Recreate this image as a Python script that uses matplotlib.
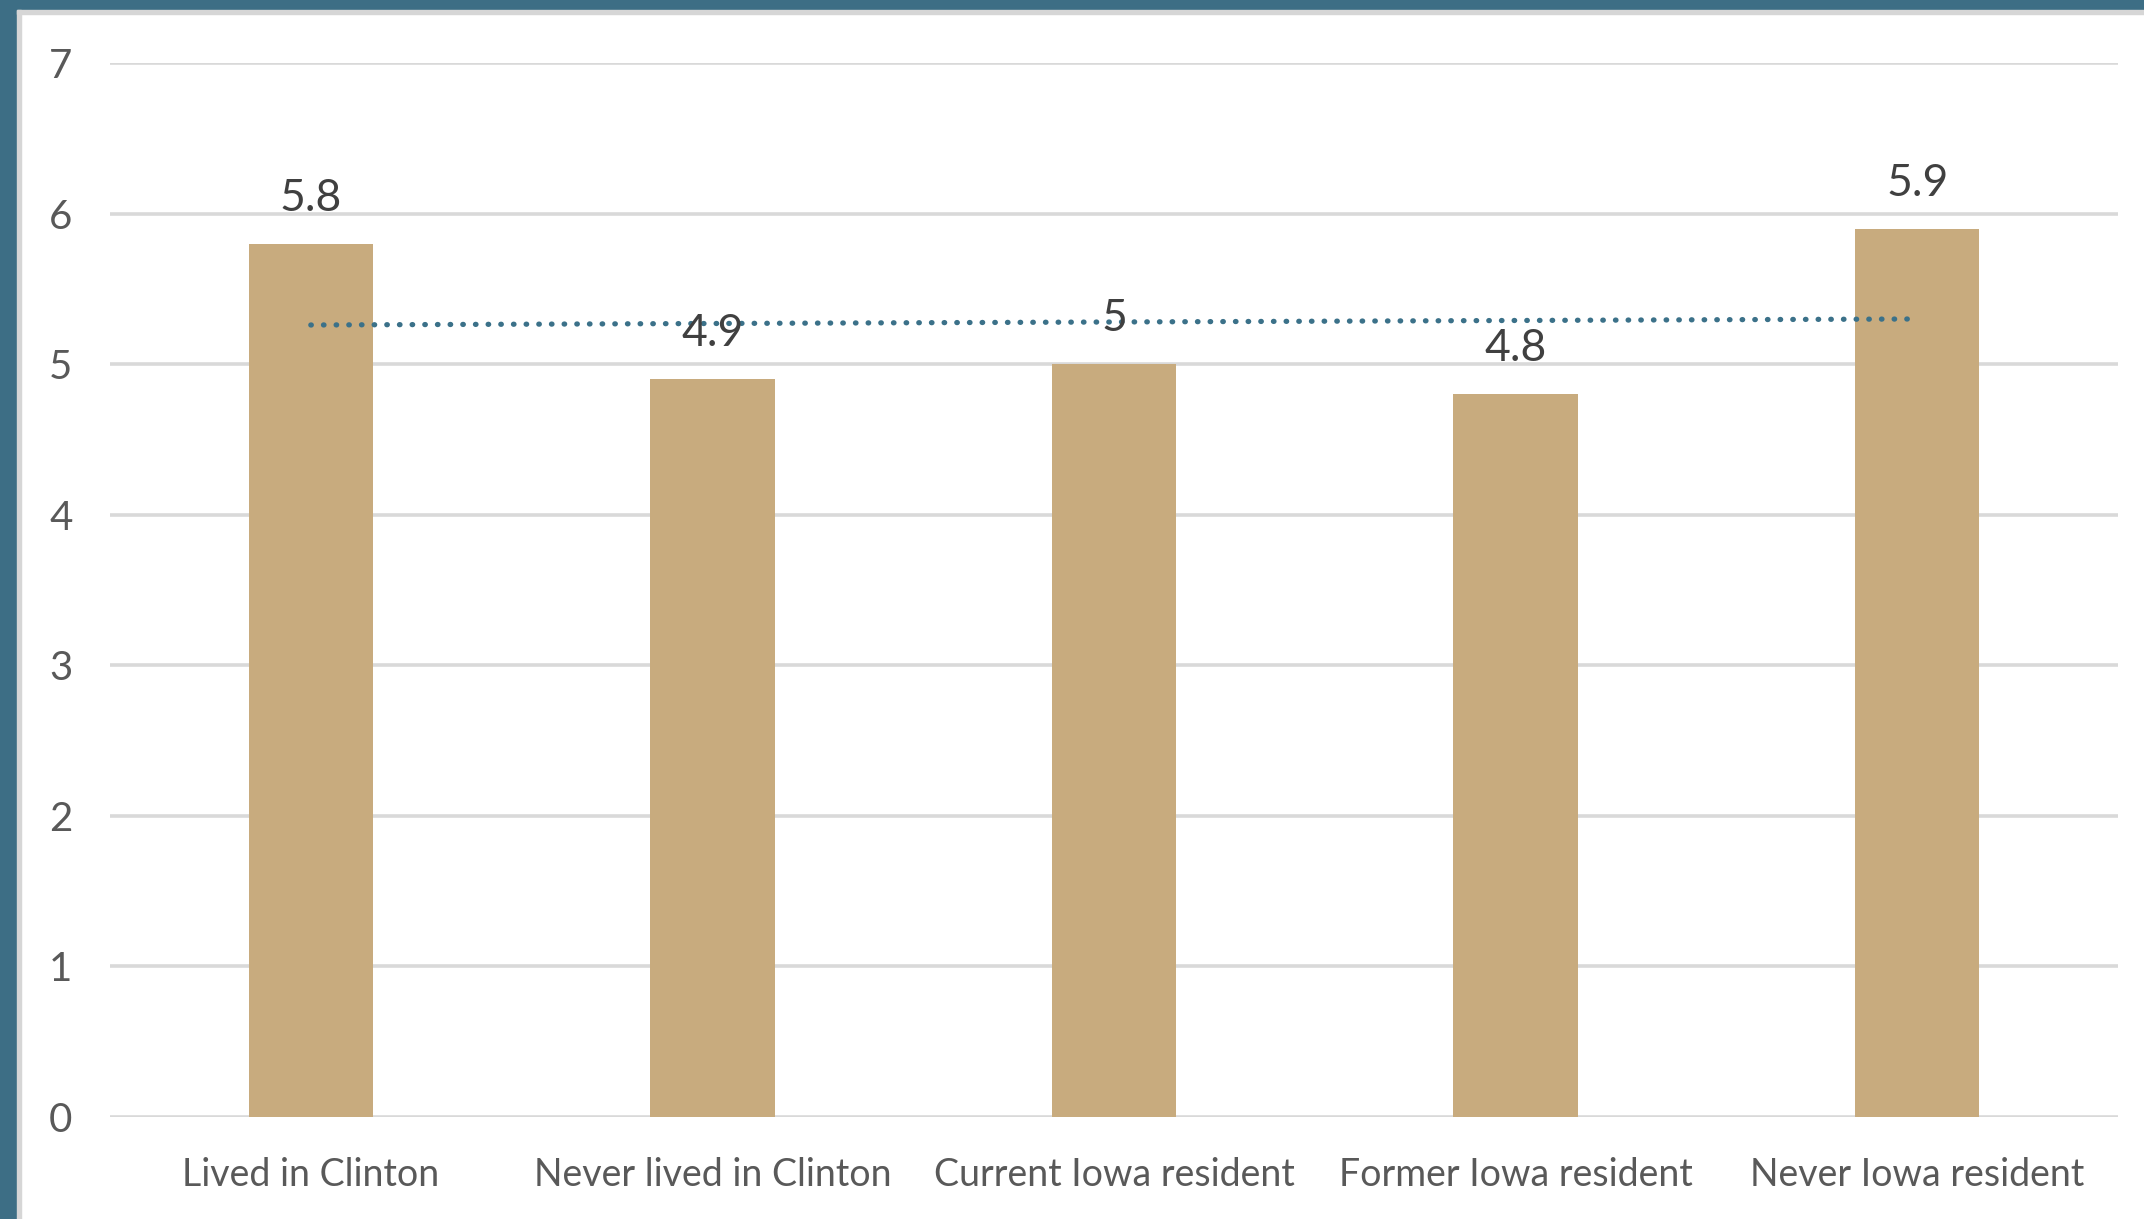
import numpy as np
import matplotlib.pyplot as plt
from matplotlib.patches import Rectangle

categories = ["Lived in Clinton", "Never lived in Clinton", "Current Iowa resident",
              "Former Iowa resident", "Never Iowa resident"]
values = [5.8, 4.9, 5.0, 4.8, 5.9]
yticks = [0, 1, 2, 3, 4, 5, 6, 7]

plt.rcParams["font.family"] = ["Lato", "DejaVu Sans"]

fig = plt.figure(figsize=(21.44, 12.19), dpi=100)
fig.patch.set_facecolor("white")

# teal frame on the left and top, with a thin grey inner edge
fig.patches.append(Rectangle((0, 0), 17 / 2144, 1, transform=fig.transFigure,
                             color="#3d6e85", zorder=0))
fig.patches.append(Rectangle((0, 1 - 10 / 1219), 1, 10 / 1219, transform=fig.transFigure,
                             color="#3d6e85", zorder=0))
fig.patches.append(Rectangle((17 / 2144, 0), 4 / 2144, 1 - 10 / 1219, transform=fig.transFigure,
                             color="#d6d6d6", zorder=0))
fig.patches.append(Rectangle((17 / 2144, 1 - 14 / 1219), 1, 4 / 1219, transform=fig.transFigure,
                             color="#d6d6d6", zorder=0))

ax = fig.add_axes([110 / 2144, 102 / 1219, 2008 / 2144, 1054 / 1219])
x = np.arange(len(categories))
ax.bar(x, values, width=0.31, color="#c8ab7e", zorder=2)

# linear trend across the groups
k, b = np.polyfit(x, values, 1)
ax.plot(x, k * x + b, color="#3b7189", lw=3.8, linestyle=(0, (0.1, 2.3)),
        dash_capstyle="round", zorder=3)

for xi, v in zip(x, values):
    ax.annotate(f"{v:g}", (xi, v), xytext=(0, 18), textcoords="offset points",
                ha="center", va="bottom", fontsize=32, color="#404040", zorder=4)

ax.set_xlim(-0.5, 4.5)
ax.set_ylim(0, 7)
ax.set_yticks(yticks)
ax.set_xticks(x)
ax.set_xticklabels(categories)
ax.grid(axis="y", color="#d9d9d9", lw=2.6, zorder=1)
ax.set_axisbelow(True)
for s in ax.spines.values():
    s.set_visible(False)
ax.tick_params(axis="y", length=0, pad=27, labelsize=29, labelcolor="#595959")
ax.tick_params(axis="x", length=0, pad=29, labelsize=27, labelcolor="#595959")

fig.savefig("out.png", dpi=100)
